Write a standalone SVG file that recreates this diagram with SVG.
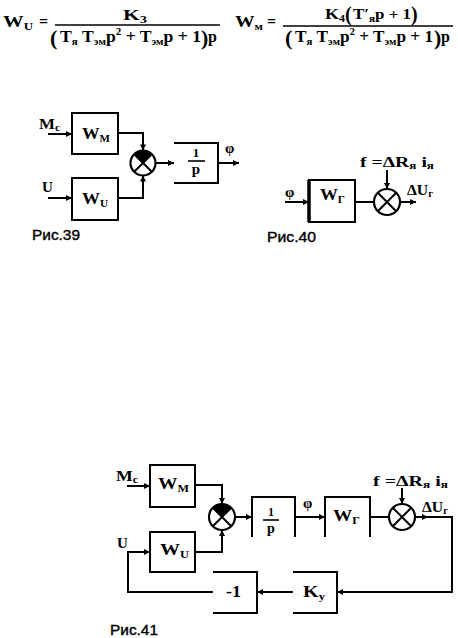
<svg xmlns="http://www.w3.org/2000/svg" width="458" height="638" viewBox="0 0 458 638">
<style>
.ln{fill:none;stroke:#000;stroke-width:2}
.bx{fill:none;stroke:#000;stroke-width:2}
.fl{stroke:#000;stroke-width:1.6}
.t{font-family:"Liberation Serif",serif;font-weight:bold;fill:#000}
.s{font-size:10px}
.cap{font-family:"Liberation Sans",sans-serif;font-size:15px;fill:#000;stroke:#000;stroke-width:0.4}
.c{fill:#fff;stroke:#000;stroke-width:2.2}
</style>
<defs>
<marker id="a" viewBox="0 0 8 8" refX="8" refY="4" markerWidth="7" markerHeight="6" orient="auto" markerUnits="userSpaceOnUse"><path d="M0,0 L8,4 L0,8 z"/></marker>
</defs>
<rect width="458" height="638" fill="#fff"/>

<g id="formula-wu">
<text class="t" x="3" y="27" font-size="16" textLength="30" lengthAdjust="spacingAndGlyphs">W<tspan class="s" dy="3">U</tspan></text>
<text class="t" x="39" y="27" font-size="16">=</text>
<line class="fl" x1="55" y1="25" x2="220" y2="25"/>
<text class="t" x="123" y="20" font-size="15" textLength="24" lengthAdjust="spacingAndGlyphs">K<tspan class="s" dy="3">3</tspan></text>
<text class="t" x="50" y="45" font-size="22">(</text>
<text class="t" x="60" y="42" font-size="16" textLength="141" lengthAdjust="spacingAndGlyphs">T<tspan class="s" dy="3">я</tspan><tspan dy="-3"> T</tspan><tspan class="s" dy="3">эм</tspan><tspan dy="-3">p</tspan><tspan class="s" dy="-7">2</tspan><tspan dy="7"> + T</tspan><tspan class="s" dy="3">эм</tspan><tspan dy="-3">p + 1</tspan></text>
<text class="t" x="201" y="45" font-size="22">)</text>
<text class="t" x="208" y="42" font-size="16">p</text>
</g>

<g id="formula-wm">
<text class="t" x="235" y="27" font-size="16" textLength="28" lengthAdjust="spacingAndGlyphs">W<tspan class="s" dy="3">м</tspan></text>
<text class="t" x="267" y="27" font-size="16">=</text>
<line class="fl" x1="283" y1="26" x2="453" y2="26"/>
<text class="t" x="325" y="19" font-size="15" textLength="20" lengthAdjust="spacingAndGlyphs">K<tspan class="s" dy="3">4</tspan></text>
<text class="t" x="345" y="21" font-size="20">(</text>
<text class="t" x="353" y="19" font-size="15" textLength="58" lengthAdjust="spacingAndGlyphs">T′<tspan class="s" dy="3">я</tspan><tspan dy="-3">p + 1</tspan></text>
<text class="t" x="411" y="21" font-size="20">)</text>
<text class="t" x="285" y="45" font-size="22">(</text>
<text class="t" x="295" y="42" font-size="16" textLength="138" lengthAdjust="spacingAndGlyphs">T<tspan class="s" dy="3">я</tspan><tspan dy="-3"> T</tspan><tspan class="s" dy="3">эм</tspan><tspan dy="-3">p</tspan><tspan class="s" dy="-7">2</tspan><tspan dy="7"> + T</tspan><tspan class="s" dy="3">эм</tspan><tspan dy="-3">p + 1</tspan></text>
<text class="t" x="434" y="45" font-size="22">)</text>
<text class="t" x="441" y="42" font-size="16">p</text>
</g>

<!-- Fig 39 -->
<g id="f39-wm"><rect class="bx" x="72" y="113" width="46" height="41"/><text class="t" x="82" y="139" font-size="16" textLength="28" lengthAdjust="spacingAndGlyphs">W<tspan class="s" dy="3">M</tspan></text></g>
<g id="f39-wu"><rect class="bx" x="72" y="178" width="46" height="42"/><text class="t" x="82" y="204" font-size="16" textLength="26" lengthAdjust="spacingAndGlyphs">W<tspan class="s" dy="3">U</tspan></text></g>
<g id="f39-sum"><circle class="c" cx="143" cy="163" r="12.5"/><path d="M143,163 L134.2,154.2 A12.5,12.5 0 0 1 151.8,154.2 Z" fill="#000"/><path class="ln" d="M134.2,154.2 L151.8,171.8 M151.8,154.2 L134.2,171.8"/></g>
<g id="f39-int"><path class="bx" d="M174,143 H218 V183 H174"/><text class="t" x="196" y="157" font-size="13" text-anchor="middle">1</text><line class="fl" x1="188" y1="161" x2="205" y2="161"/><text class="t" x="196" y="174" font-size="15" text-anchor="middle">p</text></g>
<g id="f39-labels">
<text class="t" x="39" y="129" font-size="15" textLength="21" lengthAdjust="spacingAndGlyphs">M<tspan class="s" dy="2">c</tspan></text>
<text class="t" x="42" y="192" font-size="15">U</text>
<text class="t" x="225" y="153" font-size="15">φ</text>
<text class="cap" x="32" y="240" textLength="48" lengthAdjust="spacingAndGlyphs">Рис.39</text>
</g>
<g id="f39-connectors">
<path class="ln" d="M48,134 H72" marker-end="url(#a)"/>
<path class="ln" d="M48,198 H72" marker-end="url(#a)"/>
<path class="ln" d="M118,133 H143 V150.5" marker-end="url(#a)"/>
<path class="ln" d="M118,198 H143 V175.5" marker-end="url(#a)"/>
<path class="ln" d="M155.5,163 H174" marker-end="url(#a)"/>
<path class="ln" d="M218,163 H239" marker-end="url(#a)"/>
</g>

<!-- Fig 40 -->
<g id="f40-wg"><rect class="bx" x="309" y="180" width="46" height="42"/><line x1="309" y1="180" x2="309" y2="222" stroke="#000" stroke-width="3.5"/><text class="t" x="320" y="200" font-size="16" textLength="25" lengthAdjust="spacingAndGlyphs">W<tspan class="s" dy="3">Г</tspan></text></g>
<g id="f40-sum"><circle class="c" cx="387" cy="202" r="13"/><path class="ln" d="M377.8,192.8 L396.2,211.2 M396.2,192.8 L377.8,211.2"/></g>
<g id="f40-labels">
<text class="t" x="285" y="197" font-size="15">φ</text>
<text class="t" x="360" y="167" font-size="15" textLength="74" lengthAdjust="spacingAndGlyphs">f =ΔR<tspan class="s" dy="2">я</tspan><tspan dy="-2"> i</tspan><tspan class="s" dy="2">я</tspan></text>
<text class="t" x="407" y="195" font-size="15" textLength="26" lengthAdjust="spacingAndGlyphs">ΔU<tspan class="s" dy="2">г</tspan></text>
<text class="cap" x="267" y="242" textLength="49" lengthAdjust="spacingAndGlyphs">Рис.40</text>
</g>
<g id="f40-connectors">
<path class="ln" d="M285,202 H309" marker-end="url(#a)"/>
<path class="ln" d="M355,202 H374"/>
<path class="ln" d="M387,170 V189" marker-end="url(#a)"/>
<path class="ln" d="M400,202 H416" marker-end="url(#a)"/>
</g>

<!-- Fig 41 -->
<g id="f41-wm"><rect class="bx" x="150" y="465" width="45" height="42"/><text class="t" x="158" y="489" font-size="16" textLength="31" lengthAdjust="spacingAndGlyphs">W<tspan class="s" dy="3">M</tspan></text></g>
<g id="f41-wu"><rect class="bx" x="150" y="532" width="45" height="40"/><text class="t" x="160" y="555" font-size="16" textLength="29" lengthAdjust="spacingAndGlyphs">W<tspan class="s" dy="3">U</tspan></text></g>
<g id="f41-sum"><circle class="c" cx="222" cy="517" r="13"/><path d="M222,517 L212.8,507.8 A13,13 0 0 1 231.2,507.8 Z" fill="#000"/><path class="ln" d="M212.8,507.8 L231.2,526.2 M231.2,507.8 L212.8,526.2"/></g>
<g id="f41-int"><path class="bx" d="M252,537 V497 H295 V537"/><text class="t" x="271" y="516" font-size="12" text-anchor="middle">1</text><line class="fl" x1="263" y1="520" x2="279" y2="520"/><text class="t" x="271" y="533" font-size="14" text-anchor="middle">p</text></g>
<g id="f41-wg"><path class="bx" d="M325,537 V497 H370 V537"/><text class="t" x="333" y="521" font-size="16" textLength="27" lengthAdjust="spacingAndGlyphs">W<tspan class="s" dy="3">Г</tspan></text></g>
<g id="f41-sum2"><circle class="c" cx="402" cy="517" r="13"/><path class="ln" d="M392.8,507.8 L411.2,526.2 M411.2,507.8 L392.8,526.2"/></g>
<g id="f41-ky"><path class="bx" d="M293,572 H337 V613 H293"/><text class="t" x="303" y="597" font-size="16" textLength="22" lengthAdjust="spacingAndGlyphs">K<tspan class="s" dy="3">у</tspan></text></g>
<g id="f41-neg"><path class="bx" d="M213,572 H257 V613 H213"/><text class="t" x="226" y="597" font-size="16" textLength="15" lengthAdjust="spacingAndGlyphs">-1</text></g>
<g id="f41-labels">
<text class="t" x="116" y="481" font-size="15" textLength="22" lengthAdjust="spacingAndGlyphs">M<tspan class="s" dy="2">c</tspan></text>
<text class="t" x="117" y="548" font-size="15">U</text>
<text class="t" x="303" y="508" font-size="15">φ</text>
<text class="t" x="373" y="486" font-size="15" textLength="75" lengthAdjust="spacingAndGlyphs">f =ΔR<tspan class="s" dy="2">я</tspan><tspan dy="-2"> i</tspan><tspan class="s" dy="2">я</tspan></text>
<text class="t" x="422" y="512" font-size="15" textLength="26" lengthAdjust="spacingAndGlyphs">ΔU<tspan class="s" dy="2">г</tspan></text>
<text class="cap" x="110" y="635" textLength="48" lengthAdjust="spacingAndGlyphs">Рис.41</text>
</g>
<g id="f41-connectors">
<path class="ln" d="M127,486 H150" marker-end="url(#a)"/>
<path class="ln" d="M195,485 H222 V504" marker-end="url(#a)"/>
<path class="ln" d="M195,552 H222 V530" marker-end="url(#a)"/>
<path class="ln" d="M235,517 H252" marker-end="url(#a)"/>
<path class="ln" d="M295,517 H325" marker-end="url(#a)"/>
<path class="ln" d="M370,517 H389"/>
<path class="ln" d="M402,488 V504" marker-end="url(#a)"/>
<path class="ln" d="M415,517 H428" marker-end="url(#a)"/>
<path class="ln" d="M427,517 H452 V592 H337" marker-end="url(#a)"/>
<path class="ln" d="M293,592 H257" marker-end="url(#a)"/>
<path class="ln" d="M213,592 H128 V552 H150" marker-end="url(#a)"/>
</g>
</svg>
